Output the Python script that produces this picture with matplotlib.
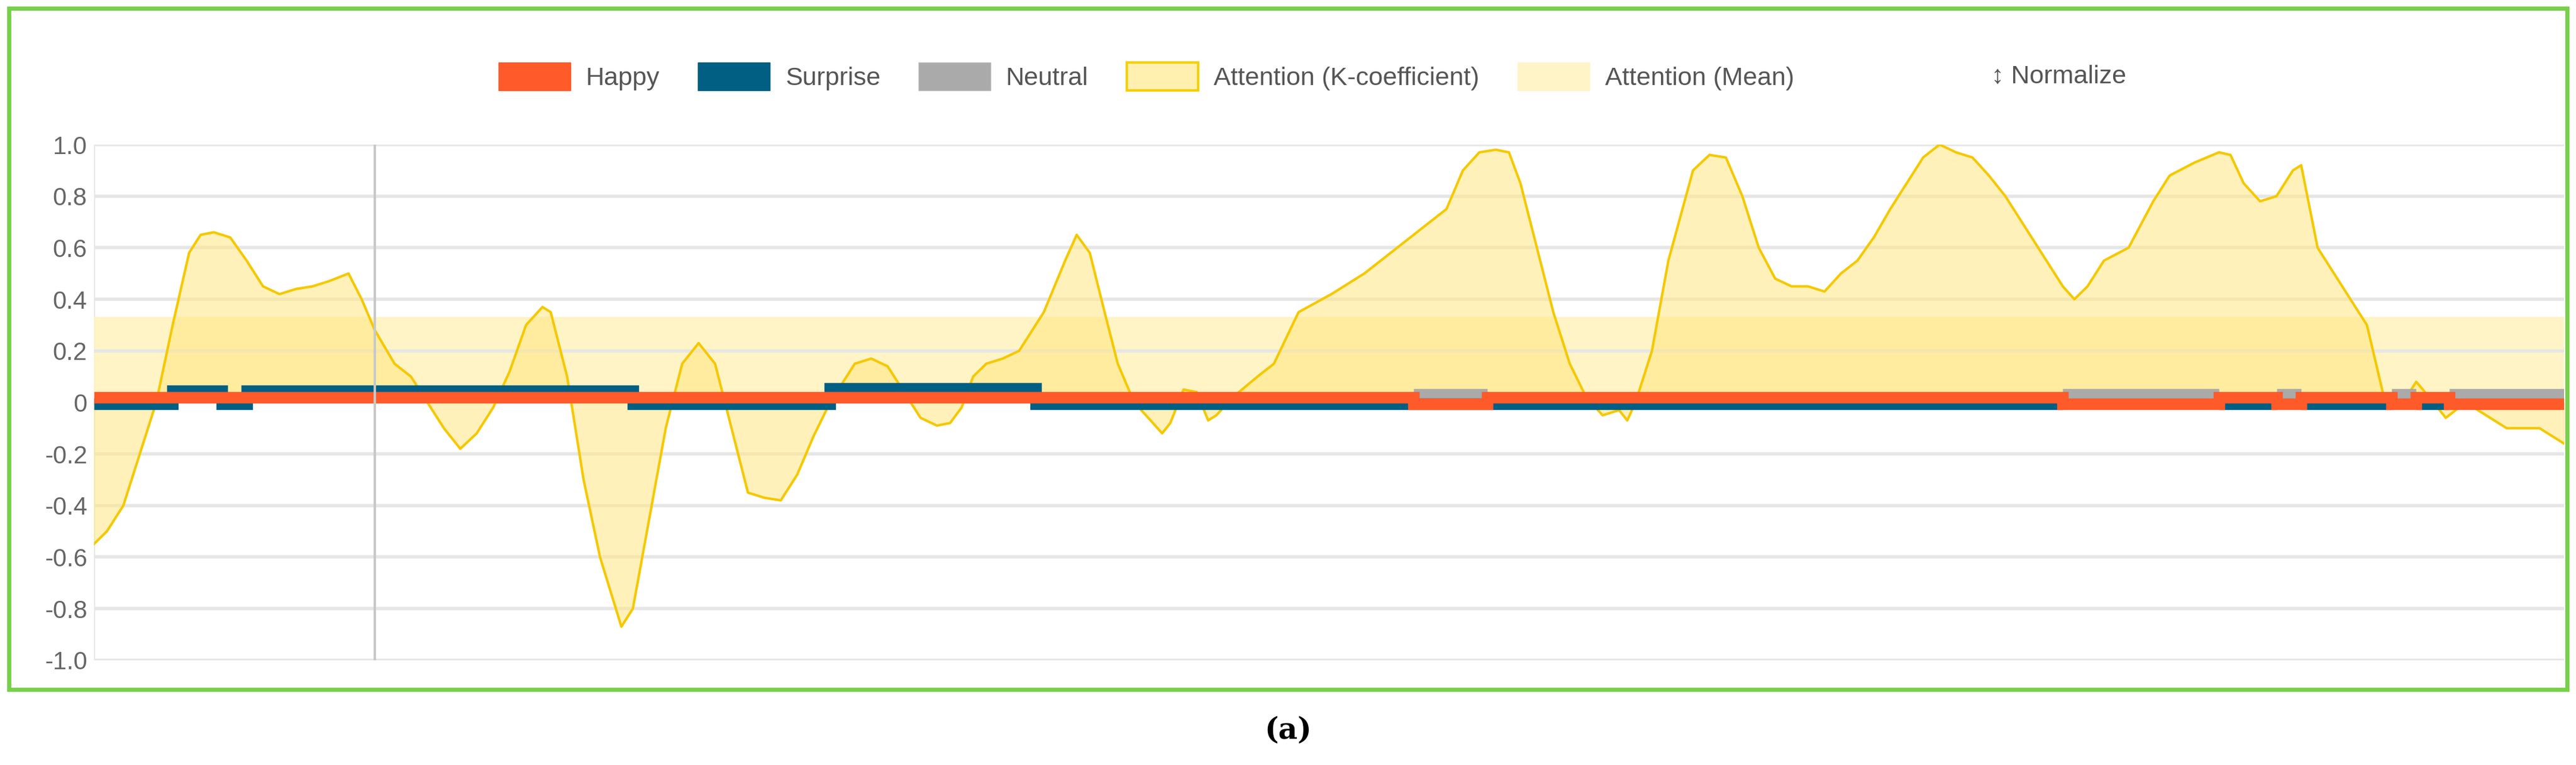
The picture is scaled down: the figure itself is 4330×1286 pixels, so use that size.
import numpy as np
import matplotlib.pyplot as plt
from matplotlib.patches import Patch, Rectangle

# attention (K-coefficient) curve: frame index, value
att_t = [0, 8, 18, 28, 38, 48, 58, 65, 73, 83, 93, 103, 113, 123, 133, 143, 155, 163, 171, 183,
         193, 198, 205, 213, 223, 233, 243, 253, 263, 273, 278, 288, 298, 308, 321, 328, 338, 348,
         358, 368, 378, 388, 398, 408, 418, 428, 438, 448, 458, 463, 473, 483, 493, 503, 513, 521,
         528, 535, 543, 553, 563, 578, 591, 598, 606, 615, 623, 633, 643, 650, 655, 663, 671, 678,
         683, 693, 708, 718, 733, 753, 773, 793, 813, 823, 833, 843, 853, 861, 868, 878, 888, 898,
         908, 918, 928, 933, 938, 948, 958, 973, 983, 993, 1003, 1013, 1023, 1033, 1043, 1053, 1063,
         1073, 1083, 1093, 1103, 1113, 1123, 1133, 1143, 1153, 1163, 1178, 1188, 1198, 1205, 1213,
         1223, 1238, 1253, 1263, 1278, 1293, 1300, 1308, 1318, 1328, 1338, 1343, 1353, 1363, 1383,
         1393, 1403, 1413, 1421, 1431, 1443, 1453, 1468, 1488, 1503]
att_v = [-0.55, -0.50, -0.40, -0.20, 0.00, 0.30, 0.58, 0.65, 0.66, 0.64, 0.55, 0.45, 0.42, 0.44,
         0.45, 0.47, 0.50, 0.40, 0.28, 0.15, 0.10, 0.05, -0.02, -0.10, -0.18, -0.12, -0.02, 0.12,
         0.30, 0.37, 0.35, 0.10, -0.30, -0.60, -0.87, -0.80, -0.45, -0.10, 0.15, 0.23, 0.15, -0.10,
         -0.35, -0.37, -0.38, -0.28, -0.13, 0.00, 0.10, 0.15, 0.17, 0.14, 0.04, -0.06, -0.09, -0.08,
         -0.02, 0.10, 0.15, 0.17, 0.20, 0.35, 0.55, 0.65, 0.58, 0.35, 0.15, 0.00, -0.07, -0.12,
         -0.08, 0.05, 0.04, -0.07, -0.05, 0.02, 0.10, 0.15, 0.35, 0.42, 0.50, 0.60, 0.70, 0.75,
         0.90, 0.97, 0.98, 0.97, 0.85, 0.60, 0.35, 0.15, 0.02, -0.05, -0.03, -0.07, 0.00, 0.20,
         0.55, 0.90, 0.96, 0.95, 0.80, 0.60, 0.48, 0.45, 0.45, 0.43, 0.50, 0.55, 0.64, 0.75, 0.85,
         0.95, 1.00, 0.97, 0.95, 0.88, 0.80, 0.65, 0.55, 0.45, 0.40, 0.45, 0.55, 0.60, 0.78, 0.88,
         0.93, 0.97, 0.96, 0.85, 0.78, 0.80, 0.90, 0.92, 0.60, 0.50, 0.30, 0.03, -0.02, 0.08, 0.02,
         -0.06, 0.00, -0.04, -0.10, -0.10, -0.16]
att_mean = 0.33

# emotion segments: start frame, levels (nan = hidden)
seg_t = [0, 48, 78, 93, 328, 448, 573, 803, 848, 1198, 1293, 1328, 1343, 1398, 1413, 1433, 1503]
happy = [0.02, 0.02, 0.02, 0.02, 0.02, 0.02, 0.02, -0.005, 0.02, -0.005, 0.02, -0.005, 0.02,
         -0.005, 0.02, -0.005, -0.005]
surprise = [-0.005, 0.045, -0.005, 0.045, -0.005, 0.055, -0.005, -0.005, -0.005, np.nan, -0.005,
            np.nan, -0.005, np.nan, -0.005, np.nan, np.nan]
neutral = [np.nan, np.nan, np.nan, np.nan, np.nan, np.nan, np.nan, 0.03, np.nan, 0.03, np.nan,
           0.03, np.nan, 0.03, np.nan, 0.03, 0.03]
cursor_t = 171

font = ['Liberation Sans', 'DejaVu Sans']

fig = plt.figure(figsize=(43.3, 12.86), dpi=100)
ax = fig.add_axes([0.0364, 0.137, 0.959, 0.674])

ax.axhspan(0, att_mean, color='#fff3c0', alpha=0.9, zorder=1)
ax.fill_between(att_t, att_v, 0, color='#ffe680', alpha=0.55, zorder=2)
ax.plot(att_t, att_v, color='#f5c800', lw=3, zorder=3)

style = dict(where='post', lw=14, solid_capstyle='butt', solid_joinstyle='miter')
ax.step(seg_t, neutral, color='#aaaaaa', zorder=4, **style)
ax.step(seg_t, surprise, color='#005f83', zorder=5, **style)
ax.step(seg_t, happy, color='#ff5a2a', zorder=6, **style)
ax.axvline(cursor_t, color='#c8c8c8', lw=3, zorder=7)

ax.set_xlim(0, 1503)
ax.set_ylim(-1.0, 1.0)
ax.set_yticks(np.arange(-1.0, 1.01, 0.2))
ax.set_yticklabels(['-1.0', '-0.8', '-0.6', '-0.4', '-0.2', '0', '0.2', '0.4', '0.6', '0.8', '1.0'])
ax.tick_params(axis='y', labelsize=30, colors='#666666', length=0, pad=8)
ax.tick_params(axis='x', bottom=False, labelbottom=False)
for lab in ax.get_yticklabels():
    lab.set_fontfamily(font)
ax.grid(axis='y', color='#e6e6e6', lw=4, zorder=0)
for s in ax.spines.values():
    s.set_visible(False)
ax.axvline(0, color='#e6e6e6', lw=2, zorder=0)

handles = [Patch(facecolor='#ff5a2a', edgecolor='#ff5a2a'),
           Patch(facecolor='#005f83', edgecolor='#005f83'),
           Patch(facecolor='#aaaaaa', edgecolor='#bbbbbb'),
           Patch(facecolor='#fff0b0', edgecolor='#f5d000', lw=3),
           Patch(facecolor='#fff3c8', edgecolor='#fff3c8')]
labels = ['Happy', 'Surprise', 'Neutral', 'Attention (K-coefficient)', 'Attention (Mean)']
fig.legend(handles, labels, loc='center', bbox_to_anchor=(0.445, 0.9), ncol=5, frameon=False,
           prop={'family': font, 'size': 31},
           handlelength=2.8, handleheight=1.3, columnspacing=1.5, handletextpad=0.6,
           labelcolor='#555555')
fig.text(0.773, 0.9, '↕ Normalize', fontsize=31, color='#555555', va='center', family=font)

fig.add_artist(Rectangle((0.0035, 0.099), 0.993, 0.89, transform=fig.transFigure,
                         fill=False, edgecolor='#77d04a', lw=5))
fig.text(0.5, 0.045, '(a)', fontsize=36, ha='center', va='center', family='DejaVu Serif',
         weight='bold')

fig.savefig('out.png', dpi=100)
